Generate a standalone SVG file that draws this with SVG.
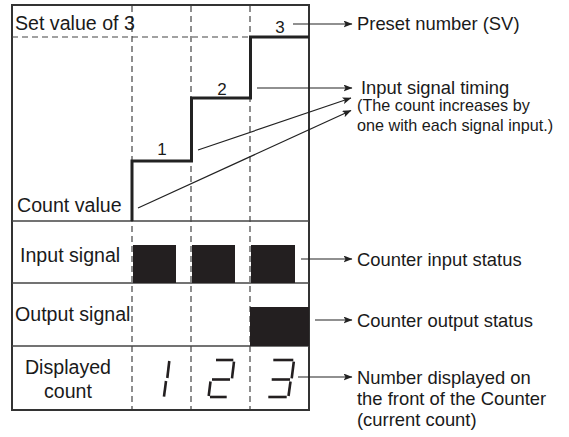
<svg xmlns="http://www.w3.org/2000/svg" width="569" height="437" viewBox="0 0 569 437">
<style>
  .t { font-family: "Liberation Sans", Arial, sans-serif; fill: #1a1a1a; }
  .lbl { font-size: 19.6px; }
  .rt { font-size: 18.4px; }
  .sm { font-size: 16.2px; }
  .num { font-size: 17px; text-anchor: middle; }
  .frame { fill: none; stroke: #333; stroke-width: 2; }
  .sep { stroke: #444; stroke-width: 1.3; fill: none; }
  .dash { stroke: #444; stroke-width: 1.2; stroke-dasharray: 6 4; fill: none; }
  .step { fill: none; stroke: #222; stroke-width: 3; }
  .blk { fill: #231f20; }
  .conn { stroke: #222; stroke-width: 1.2; fill: none; marker-end: url(#ah); }
  .seg { stroke: #231f20; stroke-width: 2.6; stroke-linecap: butt; }
</style>
<defs>
  <marker id="ah" markerWidth="9" markerHeight="7" refX="8.5" refY="3.5" orient="auto" markerUnits="userSpaceOnUse">
    <path d="M0,0 L9,3.5 L0,7 L2,3.5 Z" fill="#222"/>
  </marker>
</defs>

<g id="chart">
  <rect class="frame" x="12" y="5" width="297" height="405"/>
  <line class="sep" x1="12" y1="221" x2="309" y2="221"/>
  <line class="sep" x1="12" y1="283" x2="309" y2="283"/>
  <line class="sep" x1="12" y1="346" x2="309" y2="346"/>
  <line class="dash" x1="12" y1="37" x2="309" y2="37"/>
  <line class="dash" x1="132" y1="6" x2="132" y2="409"/>
  <line class="dash" x1="191" y1="6" x2="191" y2="409"/>
  <line class="dash" x1="250" y1="6" x2="250" y2="409"/>
</g>

<g id="count-value">
  <polyline class="step" points="132,221 132,161 191.5,161 191.5,98 250.5,98 250.5,37 309,37"/>
  <text class="t num" x="162" y="155">1</text>
  <text class="t num" x="222" y="95">2</text>
  <text class="t num" x="280" y="33">3</text>
  <text class="t lbl" x="15" y="30" font-size="17.8">Set value of 3</text>
  <text class="t lbl" x="17" y="212">Count value</text>
</g>

<g id="input-signal">
  <text class="t lbl" x="20" y="262">Input signal</text>
  <rect class="blk" x="133" y="245" width="43" height="38"/>
  <rect class="blk" x="192" y="245" width="43" height="38"/>
  <rect class="blk" x="251" y="245" width="44" height="38"/>
</g>

<g id="output-signal">
  <text class="t lbl" x="15" y="321" font-size="18.8">Output signal</text>
  <rect class="blk" x="250" y="307" width="59" height="39"/>
</g>

<g id="displayed-count">
  <text class="t lbl" x="68" y="374" text-anchor="middle">Displayed</text>
  <text class="t lbl" x="68" y="398" text-anchor="middle">count</text>
  <g id="digit-1">
    <line class="seg" x1="169.3" y1="361" x2="167.3" y2="378"/>
    <line class="seg" x1="166" y1="381" x2="164" y2="396.7"/>
  </g>
  <g id="digit-2">
    <line class="seg" x1="216" y1="360" x2="233.3" y2="360"/>
    <line class="seg" x1="234" y1="361.7" x2="232" y2="378.3"/>
    <line class="seg" x1="212" y1="379.5" x2="230" y2="379.5"/>
    <line class="seg" x1="210.5" y1="381.5" x2="208.7" y2="396"/>
    <line class="seg" x1="210" y1="397" x2="226.7" y2="397"/>
  </g>
  <g id="digit-3">
    <line class="seg" x1="273.3" y1="360" x2="293.3" y2="360"/>
    <line class="seg" x1="293.8" y1="361.7" x2="291.7" y2="378.3"/>
    <line class="seg" x1="271.7" y1="379.5" x2="290" y2="379.5"/>
    <line class="seg" x1="290.5" y1="381.5" x2="288.5" y2="396"/>
    <line class="seg" x1="268.3" y1="397" x2="286.7" y2="397"/>
  </g>
</g>

<g id="connectors">
  <line class="conn" x1="293" y1="24" x2="352" y2="24"/>
  <line class="conn" x1="257" y1="88" x2="352" y2="88"/>
  <line class="conn" x1="198" y1="150" x2="351" y2="98"/>
  <line class="conn" x1="138" y1="208" x2="351" y2="110.5"/>
  <line class="conn" x1="301" y1="259" x2="352" y2="259"/>
  <line class="conn" x1="315" y1="320" x2="352" y2="320"/>
  <line class="conn" x1="298" y1="377" x2="352" y2="377"/>
</g>

<g id="annotations">
  <text class="t rt" x="357" y="30" font-size="16.8">Preset number (SV)</text>
  <text class="t rt" x="361" y="94">Input signal timing</text>
  <text class="t sm" x="357" y="111">(The count increases by</text>
  <text class="t sm" x="357" y="131">one with each signal input.)</text>
  <text class="t rt" x="357" y="266">Counter input status</text>
  <text class="t rt" x="357" y="327">Counter output status</text>
  <text class="t rt" x="357" y="384">Number displayed on</text>
  <text class="t rt" x="357" y="405">the front of the Counter</text>
  <text class="t rt" x="357" y="426">(current count)</text>
</g>
</svg>
